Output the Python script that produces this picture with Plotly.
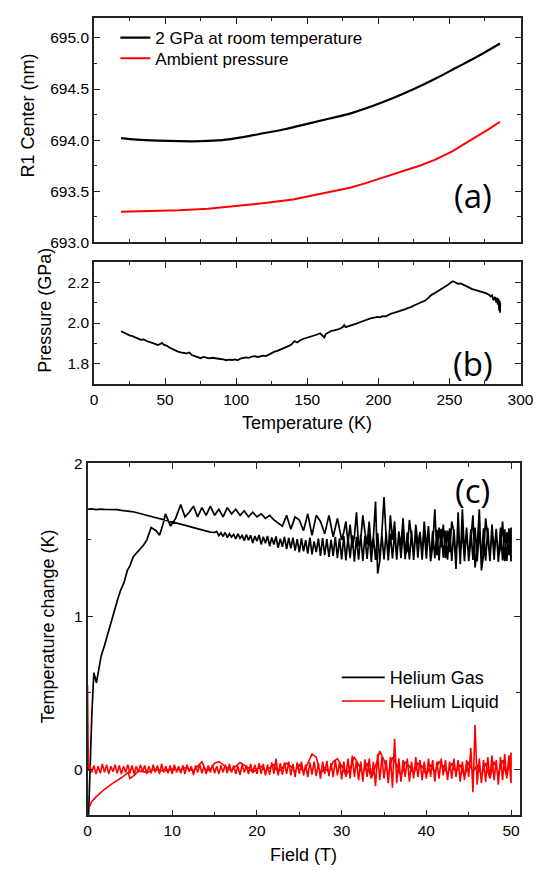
import plotly.graph_objects as go

# page is 557x879; the html body adds an 8px margin, so the figure is 16px smaller
W, H = 541, 863
OFF = 8

# (a) R1 line centre vs temperature
temp_2gpa = [19, 30, 45, 60, 75, 90, 105, 120, 135, 150, 165, 180, 195,
             210, 225, 240, 255, 270, 285.6]
r1_2gpa = [694.02, 694.005, 693.995, 693.99, 693.99, 694.0, 694.03, 694.07,
           694.11, 694.16, 694.21, 694.26, 694.33, 694.41, 694.50, 694.60,
           694.71, 694.82, 694.945]
temp_amb = [19, 40, 60, 80, 100, 120, 140, 160, 170, 180, 190, 200, 210, 220,
            230, 240, 246, 252, 260, 270, 278, 285.6]
r1_amb = [693.30, 693.305, 693.315, 693.33, 693.355, 693.385, 693.42, 693.48,
          693.505, 693.535, 693.575, 693.62, 693.66, 693.705, 693.755, 693.81,
          693.85, 693.89, 693.96, 694.04, 694.11, 694.18]

# (b) pressure vs temperature
temp_p = [19, 21, 23, 25, 27, 29, 31, 33, 35, 37, 39, 41, 43, 45, 47, 48, 49,
          51, 53, 55, 57, 59, 61, 63, 65, 67, 69, 71, 73, 75, 77, 79, 81, 83,
          85, 87, 89, 91, 93, 95, 97, 99, 101, 103, 105, 107, 109, 111, 113,
          115, 117, 119, 121, 123, 125, 127, 129, 131, 133, 135, 137, 139, 141,
          143, 145, 147, 149, 151, 153, 155, 157, 159, 161, 162, 163, 165, 167,
          169, 171, 173, 175, 176, 177, 179, 181, 183, 185, 187, 189, 191, 193,
          195, 197, 199, 201, 203, 205, 207, 209, 211, 213, 215, 217, 219, 221,
          223, 225, 227, 229, 231, 233, 235, 237, 239, 241, 243, 245, 247, 249,
          251, 252.5, 254, 256, 258, 260, 262, 264, 266, 268, 270, 272, 274,
          276, 278, 279, 280, 281, 282, 283, 283.5, 284, 284.5, 285, 285.3,
          285.6, 285.8]
pressure = [1.960, 1.952, 1.948, 1.940, 1.936, 1.928, 1.924, 1.918, 1.920,
            1.912, 1.908, 1.904, 1.898, 1.892, 1.900, 1.903, 1.894, 1.890,
            1.880, 1.872, 1.868, 1.860, 1.856, 1.852, 1.851, 1.856, 1.842,
            1.838, 1.832, 1.828, 1.834, 1.830, 1.827, 1.830, 1.829, 1.826,
            1.824, 1.822, 1.818, 1.821, 1.819, 1.822, 1.818, 1.826, 1.828,
            1.832, 1.830, 1.836, 1.838, 1.834, 1.837, 1.840, 1.838, 1.846,
            1.852, 1.860, 1.864, 1.870, 1.874, 1.882, 1.888, 1.896, 1.912,
            1.905, 1.916, 1.922, 1.926, 1.930, 1.936, 1.940, 1.944, 1.950,
            1.936, 1.930, 1.946, 1.955, 1.962, 1.964, 1.968, 1.972, 1.980,
            1.990, 1.980, 1.984, 1.988, 1.994, 1.998, 2.004, 2.010, 2.016,
            2.018, 2.024, 2.026, 2.030, 2.028, 2.034, 2.032, 2.040, 2.046,
            2.050, 2.054, 2.060, 2.062, 2.068, 2.074, 2.078, 2.086, 2.092,
            2.096, 2.104, 2.110, 2.122, 2.136, 2.144, 2.152, 2.160, 2.170,
            2.178, 2.188, 2.198, 2.205, 2.200, 2.192, 2.194, 2.186, 2.180,
            2.172, 2.166, 2.162, 2.158, 2.153, 2.150, 2.145, 2.138, 2.130,
            2.136, 2.112, 2.128, 2.100, 2.124, 2.090, 2.120, 2.060, 2.110,
            2.050, 2.100]

# (c) temperature change vs field, swept up and back down
field_fine = [0.25, 0.5, 0.75, 1.0, 1.25, 1.5, 1.75, 2.0,
              2.25, 2.5, 2.75, 3.0, 3.25, 3.5, 3.75, 4.0,
              4.25, 4.5, 4.75, 5.0, 5.25, 5.5, 5.75, 6.0,
              6.25, 6.5, 6.75, 7.0, 7.25, 7.5, 7.75, 8.0,
              8.25, 8.5, 8.75, 9.0, 9.25, 9.5, 9.75, 10.0,
              10.25, 10.5, 10.75, 11.0, 11.25, 11.5, 11.75, 12.0,
              12.25, 12.5, 12.75, 13.0, 13.25, 13.5, 13.75, 14.0,
              14.25, 14.5, 14.75, 15.0, 15.25, 15.5, 15.75, 16.0,
              16.25, 16.5, 16.75, 17.0, 17.25, 17.5, 17.75, 18.0,
              18.25, 18.5, 18.75, 19.0, 19.25, 19.5, 19.75, 20.0,
              20.25, 20.5, 20.75, 21.0, 21.25, 21.5, 21.75, 22.0,
              22.25, 22.5, 22.75, 23.0, 23.25, 23.5, 23.75, 24.0,
              24.25, 24.5, 24.75, 25.0, 25.25, 25.5, 25.75, 26.0,
              26.25, 26.5, 26.75, 27.0, 27.25, 27.5, 27.75, 28.0,
              28.25, 28.5, 28.75, 29.0, 29.25, 29.5, 29.75, 30.0,
              30.25, 30.5, 30.75, 31.0, 31.25, 31.5, 31.75, 32.0,
              32.25, 32.5, 32.75, 33.0, 33.25, 33.5, 33.75, 34.0,
              34.25, 34.5, 34.75, 35.0, 35.25, 35.5, 35.75, 36.0,
              36.25, 36.5, 36.75, 37.0, 37.25, 37.5, 37.75, 38.0,
              38.25, 38.5, 38.75, 39.0, 39.25, 39.5, 39.75, 40.0,
              40.25, 40.5, 40.75, 41.0, 41.25, 41.5, 41.75, 42.0,
              42.25, 42.5, 42.75, 43.0, 43.25, 43.5, 43.75, 44.0,
              44.25, 44.5, 44.75, 45.0, 45.25, 45.5, 45.75, 46.0,
              46.25, 46.5, 46.75, 47.0, 47.25, 47.5, 47.75, 48.0,
              48.25, 48.5, 48.75, 49.0, 49.25, 49.5, 49.75, 50.0]

# helium gas, up sweep: smooth start (0-15 T, 0.5 T steps) then noisy (0.25 T steps)
gas_field_start = [0.0, 0.5, 1.0, 1.5, 2.0, 2.5, 3.0, 3.5, 4.0, 4.5, 5.0, 5.5,
                   6.0, 6.5, 7.0, 7.5, 8.0, 8.5, 9.0, 9.5, 10.0, 10.5, 11.0,
                   11.5, 12.0, 12.5, 13.0, 13.5, 14.0, 14.5, 15.0]
gas_dt_start = [1.700, 1.702, 1.698, 1.701, 1.699, 1.700, 1.697, 1.698, 1.693,
                1.691, 1.686, 1.682, 1.675, 1.670, 1.660, 1.656, 1.646, 1.641,
                1.632, 1.628, 1.618, 1.612, 1.604, 1.596, 1.588, 1.580, 1.572,
                1.565, 1.560, 1.550, 1.548]
gas_dt_noisy = [1.555, 1.528, 1.546, 1.522, 1.548, 1.515, 1.540, 1.518,
                1.536, 1.506, 1.540, 1.510, 1.528, 1.495, 1.534, 1.498,
                1.530, 1.480, 1.525, 1.492, 1.532, 1.470, 1.520, 1.478,
                1.526, 1.458, 1.515, 1.470, 1.522, 1.448, 1.508, 1.455,
                1.520, 1.440, 1.512, 1.445, 1.515, 1.430, 1.505, 1.418,
                1.510, 1.425, 1.498, 1.410, 1.515, 1.405, 1.490, 1.420,
                1.508, 1.395, 1.512, 1.400, 1.505, 1.388, 1.500, 1.395,
                1.520, 1.380, 1.510, 1.372, 1.525, 1.365, 1.515, 1.380,
                1.530, 1.358, 1.520, 1.370, 1.535, 1.362, 1.528, 1.375,
                1.540, 1.355, 1.522, 1.368, 1.545, 1.360, 1.535, 1.372,
                1.550, 1.366, 1.540, 1.378, 1.548, 1.370, 1.556, 1.380,
                1.555, 1.374, 1.548, 1.372, 1.560, 1.368, 1.562, 1.384,
                1.552, 1.370, 1.566, 1.376, 1.570, 1.372, 1.558, 1.380,
                1.565, 1.366, 1.572, 1.384, 1.560, 1.370, 1.575, 1.362,
                1.568, 1.374, 1.560, 1.366, 1.578, 1.360, 1.566, 1.372,
                1.570, 1.368, 1.580, 1.358, 1.562, 1.374, 1.575, 1.364,
                1.578, 1.360, 1.566, 1.370, 1.572, 1.356, 1.580, 1.366,
                1.568, 1.362, 1.575, 1.358]
# helium gas, down sweep from 50 T: 50-30 T in 0.25 T steps, then coarser
gas_dt_down_hi = [1.58, 1.40, 1.55, 1.36, 1.62, 1.45, 1.38, 1.57, 1.42, 1.60,
                  1.37, 1.52, 1.64, 1.40, 1.30, 1.70, 1.45, 1.32, 1.66, 1.50,
                  1.36, 1.58, 1.40, 1.70, 1.34, 1.68, 1.31, 1.55, 1.62, 1.42,
                  1.56, 1.38, 1.60, 1.45, 1.58, 1.40, 1.70, 1.46, 1.36, 1.59,
                  1.44, 1.62, 1.41, 1.55, 1.47, 1.60, 1.38, 1.52, 1.63, 1.43,
                  1.40, 1.64, 1.46, 1.55, 1.37, 1.62, 1.50, 1.66, 1.40, 1.52,
                  1.78, 1.55, 1.36, 1.28, 1.75, 1.52, 1.44, 1.62, 1.47, 1.55,
                  1.66, 1.50, 1.46, 1.68, 1.52, 1.45, 1.60, 1.48, 1.62, 1.55,
                  1.50]
gas_field_down_lo = [29.5, 29.0, 28.5, 28.0, 27.5, 27.0, 26.5, 26.0, 25.5, 25.0,
                     24.5, 24.0, 23.5, 23.0, 22.5, 22.0, 21.5, 21.0, 20.5, 20.0,
                     19.5, 19.0, 18.5, 18.0, 17.5, 17.0, 16.5, 16.0, 15.5, 15.0,
                     14.5, 14.0, 13.5, 13.0, 12.5, 12.0, 11.5, 11.0, 10.4, 9.8,
                     9.2, 8.9, 8.5, 8.1, 7.5, 7.0, 6.6, 6.2, 5.8, 5.4,
                     5.0, 4.7, 4.3, 3.9, 3.5, 3.2, 2.8, 2.4, 2.0, 1.6,
                     1.3, 1.05, 0.9, 0.74, 0.5, 0.3, 0.12]
gas_dt_down_lo = [1.64, 1.52, 1.66, 1.54, 1.62, 1.66, 1.53, 1.67, 1.56, 1.63,
                  1.65, 1.57, 1.66, 1.59, 1.61, 1.63, 1.66, 1.64, 1.67, 1.65,
                  1.68, 1.65, 1.69, 1.66, 1.70, 1.67, 1.71, 1.65, 1.70, 1.66,
                  1.72, 1.66, 1.71, 1.65, 1.72, 1.68, 1.65, 1.73, 1.64, 1.59,
                  1.67, 1.60, 1.53, 1.56, 1.58, 1.50, 1.465, 1.44, 1.42, 1.39,
                  1.33, 1.30, 1.22, 1.17, 1.10, 1.04, 0.96, 0.89, 0.81, 0.74,
                  0.65, 0.565, 0.60, 0.632, 0.35, 0.0, -0.30]

# helium liquid, up sweep (spike at zero field, then noise in 0.25 T steps)
liq_field_start = [0.0, 0.1]
liq_dt_start = [0.55, -0.01]
liq_dt_noisy = [0.03, -0.02, 0.025, -0.03, 0.02, -0.025, 0.035, -0.02,
                0.03, -0.03, 0.02, -0.015, 0.03, -0.025, 0.025, -0.03,
                0.02, -0.02, 0.03, -0.025, 0.025, -0.03, 0.02, -0.02,
                0.03, -0.015, 0.025, -0.03, 0.02, -0.025, 0.03, -0.02,
                0.025, -0.03, 0.035, -0.02, 0.02, -0.025, 0.025, -0.03,
                0.03, -0.02, 0.02, -0.025, 0.025, -0.03, 0.03, -0.015,
                0.02, -0.035, 0.025, -0.02, 0.03, -0.025, 0.02, -0.03,
                0.025, -0.02, 0.03, -0.025, 0.02, -0.03, 0.025, -0.02,
                0.03, -0.025, 0.035, -0.02, 0.025, -0.03, 0.02, -0.035,
                0.03, -0.02, 0.025, -0.03, 0.035, -0.025, 0.03, -0.03,
                0.04, -0.03, 0.035, -0.04, 0.03, -0.035, 0.045, -0.03,
                0.07, -0.04, 0.04, -0.035, 0.045, -0.03, 0.05, -0.04,
                0.035, -0.05, 0.045, -0.03, 0.05, -0.04, 0.03, -0.05,
                0.045, -0.035, 0.05, -0.045, 0.04, -0.06, 0.05, -0.03,
                0.055, -0.045, 0.04, -0.05, 0.06, -0.04, 0.05, -0.065,
                0.05, -0.05, 0.07, -0.06, 0.09, -0.05, 0.06, -0.07,
                0.05, -0.08, 0.065, -0.05, 0.07, -0.06, 0.05, -0.11,
                0.10, -0.07, 0.08, -0.06, 0.06, -0.09, 0.08, -0.12,
                0.20, -0.09, 0.07, -0.08, 0.06, -0.05, 0.07, -0.08,
                0.05, -0.06, 0.08, -0.05, 0.06, -0.07, 0.05, -0.06,
                0.07, -0.05, 0.06, -0.08, 0.05, -0.06, 0.07, -0.04,
                0.06, -0.07, 0.05, -0.06, 0.07, -0.05, 0.06, -0.08,
                0.05, -0.07, 0.06, -0.05, 0.14, -0.15, 0.29, -0.10,
                0.07, -0.09, 0.06, -0.08, 0.08, -0.06, 0.09, -0.07,
                0.06, -0.10, 0.08, -0.07, 0.10, -0.06, 0.09, -0.09]
# helium liquid, down sweep back to zero field
liq_field_down = [50.0, 49.5, 49.0, 48.5, 48.0, 47.5, 47.0, 46.5, 46.0, 45.5,
                  45.0, 44.5, 44.0, 43.5, 43.0, 42.5, 42.0, 41.5, 41.0, 40.5,
                  40.0, 39.5, 39.0, 38.5, 38.0, 37.5, 37.0, 36.5, 36.0, 35.5,
                  35.0, 34.5, 34.0, 33.5, 33.0, 32.5, 32.0, 31.5, 31.0, 30.5,
                  30.0, 29.5, 29.0, 28.5, 28.0, 27.5, 27.0, 26.5, 26.0, 25.5,
                  25.0, 24.5, 24.0, 23.5, 23.0, 22.5, 22.0, 21.5, 21.0, 20.5,
                  20.0, 19.5, 19.0, 18.5, 18.0, 17.5, 17.0, 16.5, 16.0, 15.5,
                  15.0, 14.5, 14.0, 13.5, 13.0, 12.5, 12.0, 11.5, 11.0, 10.0,
                  9.0, 8.0, 7.0, 6.0, 5.5, 5.0, 4.8, 4.0, 3.0, 2.0,
                  1.0, 0.5, 0.2]
liq_dt_down = [0.11, -0.05, 0.06, -0.03, 0.05, -0.06, 0.04, -0.04, 0.03, -0.02,
               0.05, -0.05, 0.03, -0.02, 0.04, -0.03, 0.02, 0.05, -0.02, 0.03,
               -0.04, 0.02, 0.04, -0.03, 0.02, 0.05, -0.05, 0.03, 0.08, -0.04,
               0.06, 0.12, 0.02, -0.06, 0.04, -0.03, 0.03, 0.08, 0.01, -0.04,
               0.02, 0.07, 0.05, -0.02, 0.01, -0.03, 0.08, 0.10, 0.04, -0.02,
               0.03, -0.01, 0.02, 0.04, 0.01, -0.02, 0.03, 0.01, -0.01, 0.02,
               0.0, -0.02, 0.01, 0.03, 0.045, 0.02, -0.01, 0.01, 0.03, 0.05,
               0.04, 0.0, -0.01, 0.05, 0.02, -0.01, 0.0, 0.01, -0.005, 0.0,
               -0.01, 0.0, -0.02, -0.01, -0.04, -0.06, -0.02, -0.055, -0.09, -0.13,
               -0.18, -0.21, -0.245]

gas_field = gas_field_start + field_fine[60:] + field_fine[119:][::-1] + gas_field_down_lo
gas_dt = gas_dt_start + gas_dt_noisy + gas_dt_down_hi + gas_dt_down_lo
liq_field = liq_field_start + field_fine + liq_field_down
liq_dt = liq_dt_start + liq_dt_noisy + liq_dt_down

FONT = "Liberation Sans, Arial, sans-serif"
TICKF = dict(family=FONT, size=15.5, color="black")


# positions below are given in page pixels of the 557x879 window
def fx(p):
    return (p - OFF) / W


def fy(p):
    return 1 - (p - OFF) / H


fig = go.Figure()

fig.add_trace(go.Scatter(x=temp_2gpa, y=r1_2gpa, mode="lines", name="2 GPa at room temperature",
                         line=dict(color="black", width=2.2, shape="spline"),
                         xaxis="x", yaxis="y", legend="legend"))
fig.add_trace(go.Scatter(x=temp_amb, y=r1_amb, mode="lines", name="Ambient pressure",
                         line=dict(color="#ff0000", width=2), xaxis="x", yaxis="y",
                         legend="legend2"))
fig.add_trace(go.Scatter(x=temp_p, y=pressure, mode="lines", showlegend=False,
                         line=dict(color="black", width=1.8), xaxis="x2", yaxis="y2"))
fig.add_trace(go.Scatter(x=gas_field, y=gas_dt, mode="lines", name="Helium Gas",
                         line=dict(color="black", width=1.7),
                         xaxis="x3", yaxis="y3", legend="legend3"))
fig.add_trace(go.Scatter(x=liq_field, y=liq_dt, mode="lines", name="Helium Liquid",
                         line=dict(color="#ff0000", width=1.6),
                         xaxis="x3", yaxis="y3", legend="legend4"))

ax = dict(showgrid=False, zeroline=False, showline=True, linecolor="#222", linewidth=1.8,
          mirror="ticks", ticks="inside", ticklen=6, tickwidth=1.3, tickcolor="#222",
          tickfont=TICKF)

fig.update_layout(
    width=W, height=H, margin=dict(l=0, r=0, t=0, b=0),
    paper_bgcolor="white", plot_bgcolor="white",
    xaxis=dict(ax, domain=[fx(92.7), fx(533)], anchor="y", range=[0, 300], dtick=50,
               showticklabels=False, minor=dict(dtick=25, ticks="inside", ticklen=3.5)),
    yaxis=dict(ax, domain=[fy(238), fy(9)], anchor="x", range=[693.0, 695.195], dtick=0.5,
               tickformat=".1f", minor=dict(dtick=0.25, ticks="inside", ticklen=3.5)),
    xaxis2=dict(ax, domain=[fx(92.7), fx(533)], anchor="y2", range=[0, 300], dtick=50,
                minor=dict(dtick=25, ticks="inside", ticklen=3.5)),
    yaxis2=dict(ax, domain=[fy(382.7), fy(257.7)], anchor="x2", range=[1.7, 2.3], dtick=0.2,
                tick0=0, tickformat=".1f", minor=dict(dtick=0.1, ticks="inside", ticklen=3.5)),
    xaxis3=dict(ax, domain=[fx(86), fx(532)], anchor="y3", range=[0, 51], dtick=10,
                linewidth=1.5, minor=dict(dtick=5, ticks="inside", ticklen=3.5)),
    yaxis3=dict(ax, domain=[fy(822.3), fy(463.3)], anchor="x3", range=[-0.3, 2.0], dtick=1,
                linewidth=1.5, minor=dict(dtick=0.5, ticks="inside", ticklen=3.5)),
)

leg = dict(xanchor="left", yanchor="middle", bgcolor="rgba(0,0,0,0)",
           font=dict(family=FONT, size=17, color="black"))
leg_c = dict(leg, itemwidth=43, font=dict(family=FONT, size=18, color="black"))
fig.update_layout(
    legend=dict(leg, x=fx(114.7), y=fy(29.5)),
    legend2=dict(leg, x=fx(114.7), y=fy(50.5)),
    legend3=dict(leg_c, x=fx(343.3), y=fy(682)),
    legend4=dict(leg_c, x=fx(343.3), y=fy(706)),
)

titles = [
    ("R1 Center (nm)", 25, 108, -90),
    ("Pressure (GPa)", 41.7, 307, -90),
    ("Temperature (K)", 313, 421.7, 0),
    ("Temperature change (K)", 45, 630, -90),
    ("Field (T)", 309, 863, 0),
]
for text, px, py, ang in titles:
    fig.add_annotation(text=text, x=fx(px), y=fy(py), xref="paper", yref="paper",
                       showarrow=False, textangle=ang, xanchor="center", yanchor="middle",
                       font=dict(family=FONT, size=18, color="black"))

for text, px, py in [("(a)", 484, 190), ("(b)", 484, 361), ("(c)", 483, 491.5)]:
    fig.add_annotation(text=text, x=fx(px), y=fy(py), xref="paper", yref="paper",
                       showarrow=False, xanchor="center", yanchor="middle",
                       font=dict(family="Open Sans, Lato, sans-serif", size=33, color="black"))

fig.write_html("out.html")
